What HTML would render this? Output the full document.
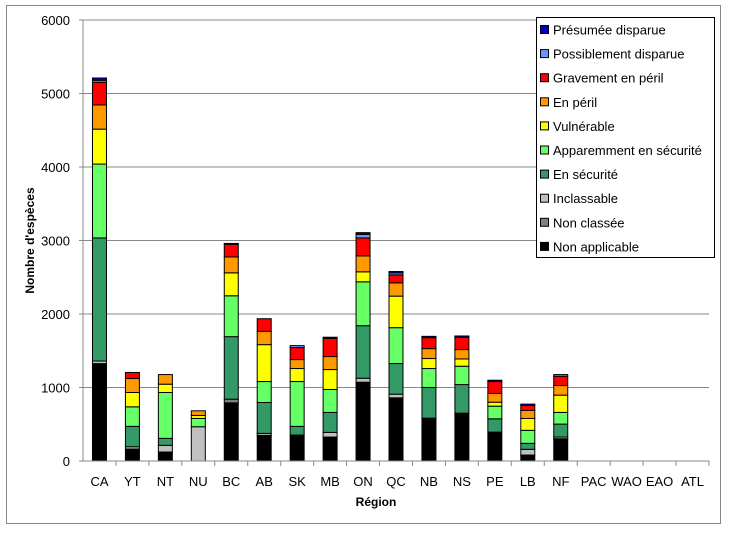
<!DOCTYPE html>
<html><head><meta charset="utf-8"><style>
body{margin:0;background:#fff;font-family:"Liberation Sans",sans-serif;}
svg text{font-family:"Liberation Sans",sans-serif;}
</style></head><body>
<svg id="chart" width="730" height="534">
<rect x="6.5" y="5.5" width="714" height="518" fill="#fff" stroke="#888"/>
<g id="grid"></g><g id="bars"></g><g id="axes"></g><g id="legend"></g>
</svg>
<script>
const categories=["CA","YT","NT","NU","BC","AB","SK","MB","ON","QC","NB","NS","PE","LB","NF","PAC","WAO","EAO","ATL"];
const seriesNames=["Non applicable","Non classée","Inclassable","En sécurité","Apparemment en sécurité","Vulnérable","En péril","Gravement en péril","Possiblement disparue","Présumée disparue"];
const seriesColors=["#000000","#808080","#c0c0c0","#339966","#66ff66","#ffff00","#ff9900","#ff0000","#6699ff","#0000cc"];
const nonApplicable=[1325,163,122,0,791,349,353,326,1072,859,583,651,393,81,303,0,0,0,0];
const nonClassee=[0,0,0,0,50,0,0,0,0,0,0,0,0,0,0,0,0,0,0];
const inclassable=[35,31,91,466,0,27,0,63,54,50,0,0,0,78,23,0,0,0,0];
const enSecurite=[1675,277,95,0,851,420,118,272,715,417,417,389,181,81,176,0,0,0,0];
const apparemment=[1005,266,624,113,556,285,610,312,597,488,258,249,172,177,159,0,0,0,0];
const vulnerable=[475,195,113,41,312,502,177,271,136,429,136,99,54,162,235,0,0,0,0];
const enPeril=[330,190,131,63,217,181,122,177,217,181,135,128,119,109,131,0,0,0,0];
const gravement=[308,82,0,0,171,172,163,248,244,109,149,167,162,68,126,0,0,0,0];
const possiblement=[27,0,0,0,0,0,27,0,49,27,0,0,0,0,23,0,0,0,0];
const presumee=[31,0,0,0,12,0,0,15,23,18,18,18,18,18,0,0,0,0,0];
const yTicks=[0,1000,2000,3000,4000,5000,6000];
const series=[nonApplicable,nonClassee,inclassable,enSecurite,apparemment,vulnerable,enPeril,gravement,possiblement,presumee];
const cats=categories;
const NS="http://www.w3.org/2000/svg";
const x0=83,x1=709,y0=461,yTop=20,yMax=6000;
const bw=(x1-x0)/cats.length;
function yScale(v){return y0-(v/yMax)*(y0-yTop);}
function xCenter(i){return x0+bw*(i+0.5);}
function mk(tag,attrs,parent){const e=document.createElementNS(NS,tag);for(const k in attrs)e.setAttribute(k,attrs[k]);parent.appendChild(e);return e;}
const grid=document.getElementById('grid'),bars=document.getElementById('bars'),axes=document.getElementById('axes'),leg=document.getElementById('legend');
yTicks.forEach(t=>{
  const y=yScale(t);
  if(t>0){const g=mk('line',{x1:x0,x2:x1,y1:y,y2:y,stroke:'#888','stroke-width':1},grid);
  
  }
  const tk=mk('line',{x1:x0-4,x2:x0,y1:y,y2:y,stroke:'#888'},axes);
  
  
  const tx=mk('text',{x:x0-13,y:y+5,'text-anchor':'end','font-size':13,fill:'#000'},axes);
  tx.textContent=t;
  
  
});
const ax=mk('line',{x1:x0,x2:x0,y1:yTop,y2:y0,stroke:'#888'},axes);


const xa=mk('line',{x1:x0,x2:x1,y1:y0,y2:y0,stroke:'#888'},axes);


cats.forEach((c,i)=>{
  const tk=mk('line',{x1:x0+bw*(i+1),x2:x0+bw*(i+1),y1:y0,y2:y0+5,stroke:'#888'},axes);
  
  
  const tx=mk('text',{x:xCenter(i),y:y0+25,'text-anchor':'middle','font-size':13},axes);
  tx.textContent=c;
  
  
  let cum=0;
  series.forEach((s,k)=>{
    const v=s[i];if(!v)return;
    const yA=yScale(cum+v),yB=yScale(cum);cum+=v;
    const r=mk('rect',{x:xCenter(i)-7,y:yA,width:14,height:yB-yA,fill:seriesColors[k],stroke:'#000','stroke-width':1},bars);
    
    
  });
});
const yt=mk('text',{x:0,y:0,'text-anchor':'middle','font-size':12,'font-weight':'bold',transform:'translate(34,'+((y0+yTop)/2)+') rotate(-90)'},axes);
yt.textContent="Nombre d'espèces";


const xt=mk('text',{x:(x0+x1)/2-20,y:506,'text-anchor':'middle','font-size':12,'font-weight':'bold'},axes);
xt.textContent="Région";


const lb=mk('rect',{x:536.5,y:17.5,width:178,height:240,fill:'#fff',stroke:'#000'},leg);


for(let k=seriesNames.length-1,j=0;k>=0;k--,j++){
  const y=30+j*24.1;
  const m=mk('rect',{x:540.5,y:y-4.5,width:8,height:8,fill:seriesColors[k],stroke:'#000'},leg);
  
  
  const t=mk('text',{x:553,y:y+4.5,'font-size':13},leg);
  t.textContent=seriesNames[k];
  
  
}
</script>
</body></html>
